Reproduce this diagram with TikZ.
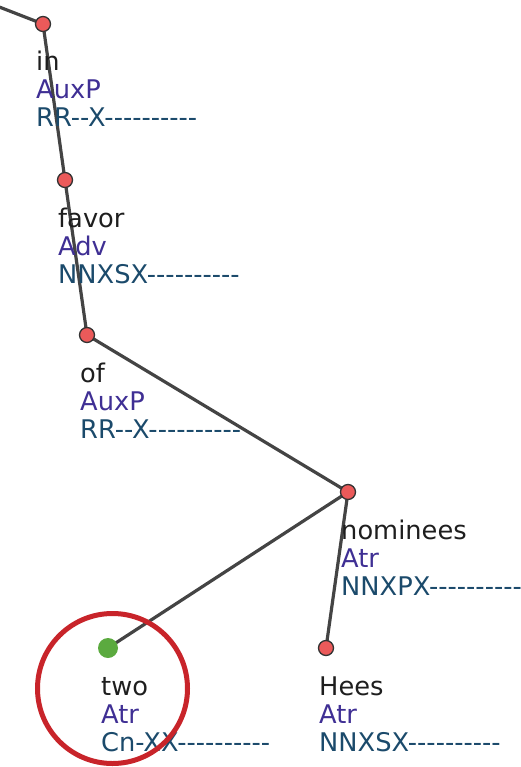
\documentclass[tikz,border=0pt]{standalone}
\usepackage{fontspec}
\newfontfamily\tokfont{DejaVu Sans}[Ligatures=TeXOff]
\definecolor{formcol}{HTML}{1E1E1E}
\definecolor{afuncol}{HTML}{3F2F94}
\definecolor{tagcol}{HTML}{1B4A6B}
\definecolor{edgecol}{HTML}{444444}
\definecolor{nodered}{HTML}{EB5A5A}
\definecolor{nodegreen}{HTML}{5BAA3F}
\definecolor{markred}{HTML}{C8242A}

\begin{document}
\begin{tikzpicture}[x=1pt, y=-1pt,
	tok/.style={circle, draw=black!80, line width=1.3pt, fill=nodered, minimum size=15pt, inner sep=0pt},
	cur/.style={circle, draw=none, fill=nodegreen, minimum size=20pt, inner sep=0pt},
	lbl/.style={anchor=north west, inner sep=0pt, align=left, font=\tokfont\fontsize{25.7}{28}\selectfont},
	edge/.style={draw=edgecol, line width=3.2pt}]

\useasboundingbox (0,0) rectangle (521,767);
\clip (0,0) rectangle (521,767);

\coordinate (up) at (-10,3.4);
\foreach \n/\x/\y in {in/43/24, favor/65/180, of/87/335, nominees/348/492, two/108/648, Hees/326/648}{
	\coordinate (\n) at (\x,\y);
}

\draw[edge] (up) -- (in) -- (favor) -- (of) -- (nominees);
\draw[edge] (nominees) -- (two);
\draw[edge] (nominees) -- (Hees);

\foreach \n/\s/\a/\t in {in/tok/AuxP/RR--X----------, favor/tok/Adv/NNXSX----------, of/tok/AuxP/RR--X----------, nominees/tok/Atr/NNXPX----------, two/cur/Atr/Cn-XX----------, Hees/tok/Atr/NNXSX----------}{
	\node[\s] (\n-dot) at (\n) {};
	\node[lbl] (\n-lbl) at ([shift={(-7,27.2)}]\n) {\strut\textcolor{formcol}{\n}\\\textcolor{afuncol}{\a}\\\textcolor{tagcol}{\t}};
}

\draw[markred, line width=5pt] (112.5,688.5) circle (75pt);

\end{tikzpicture}
\end{document}
